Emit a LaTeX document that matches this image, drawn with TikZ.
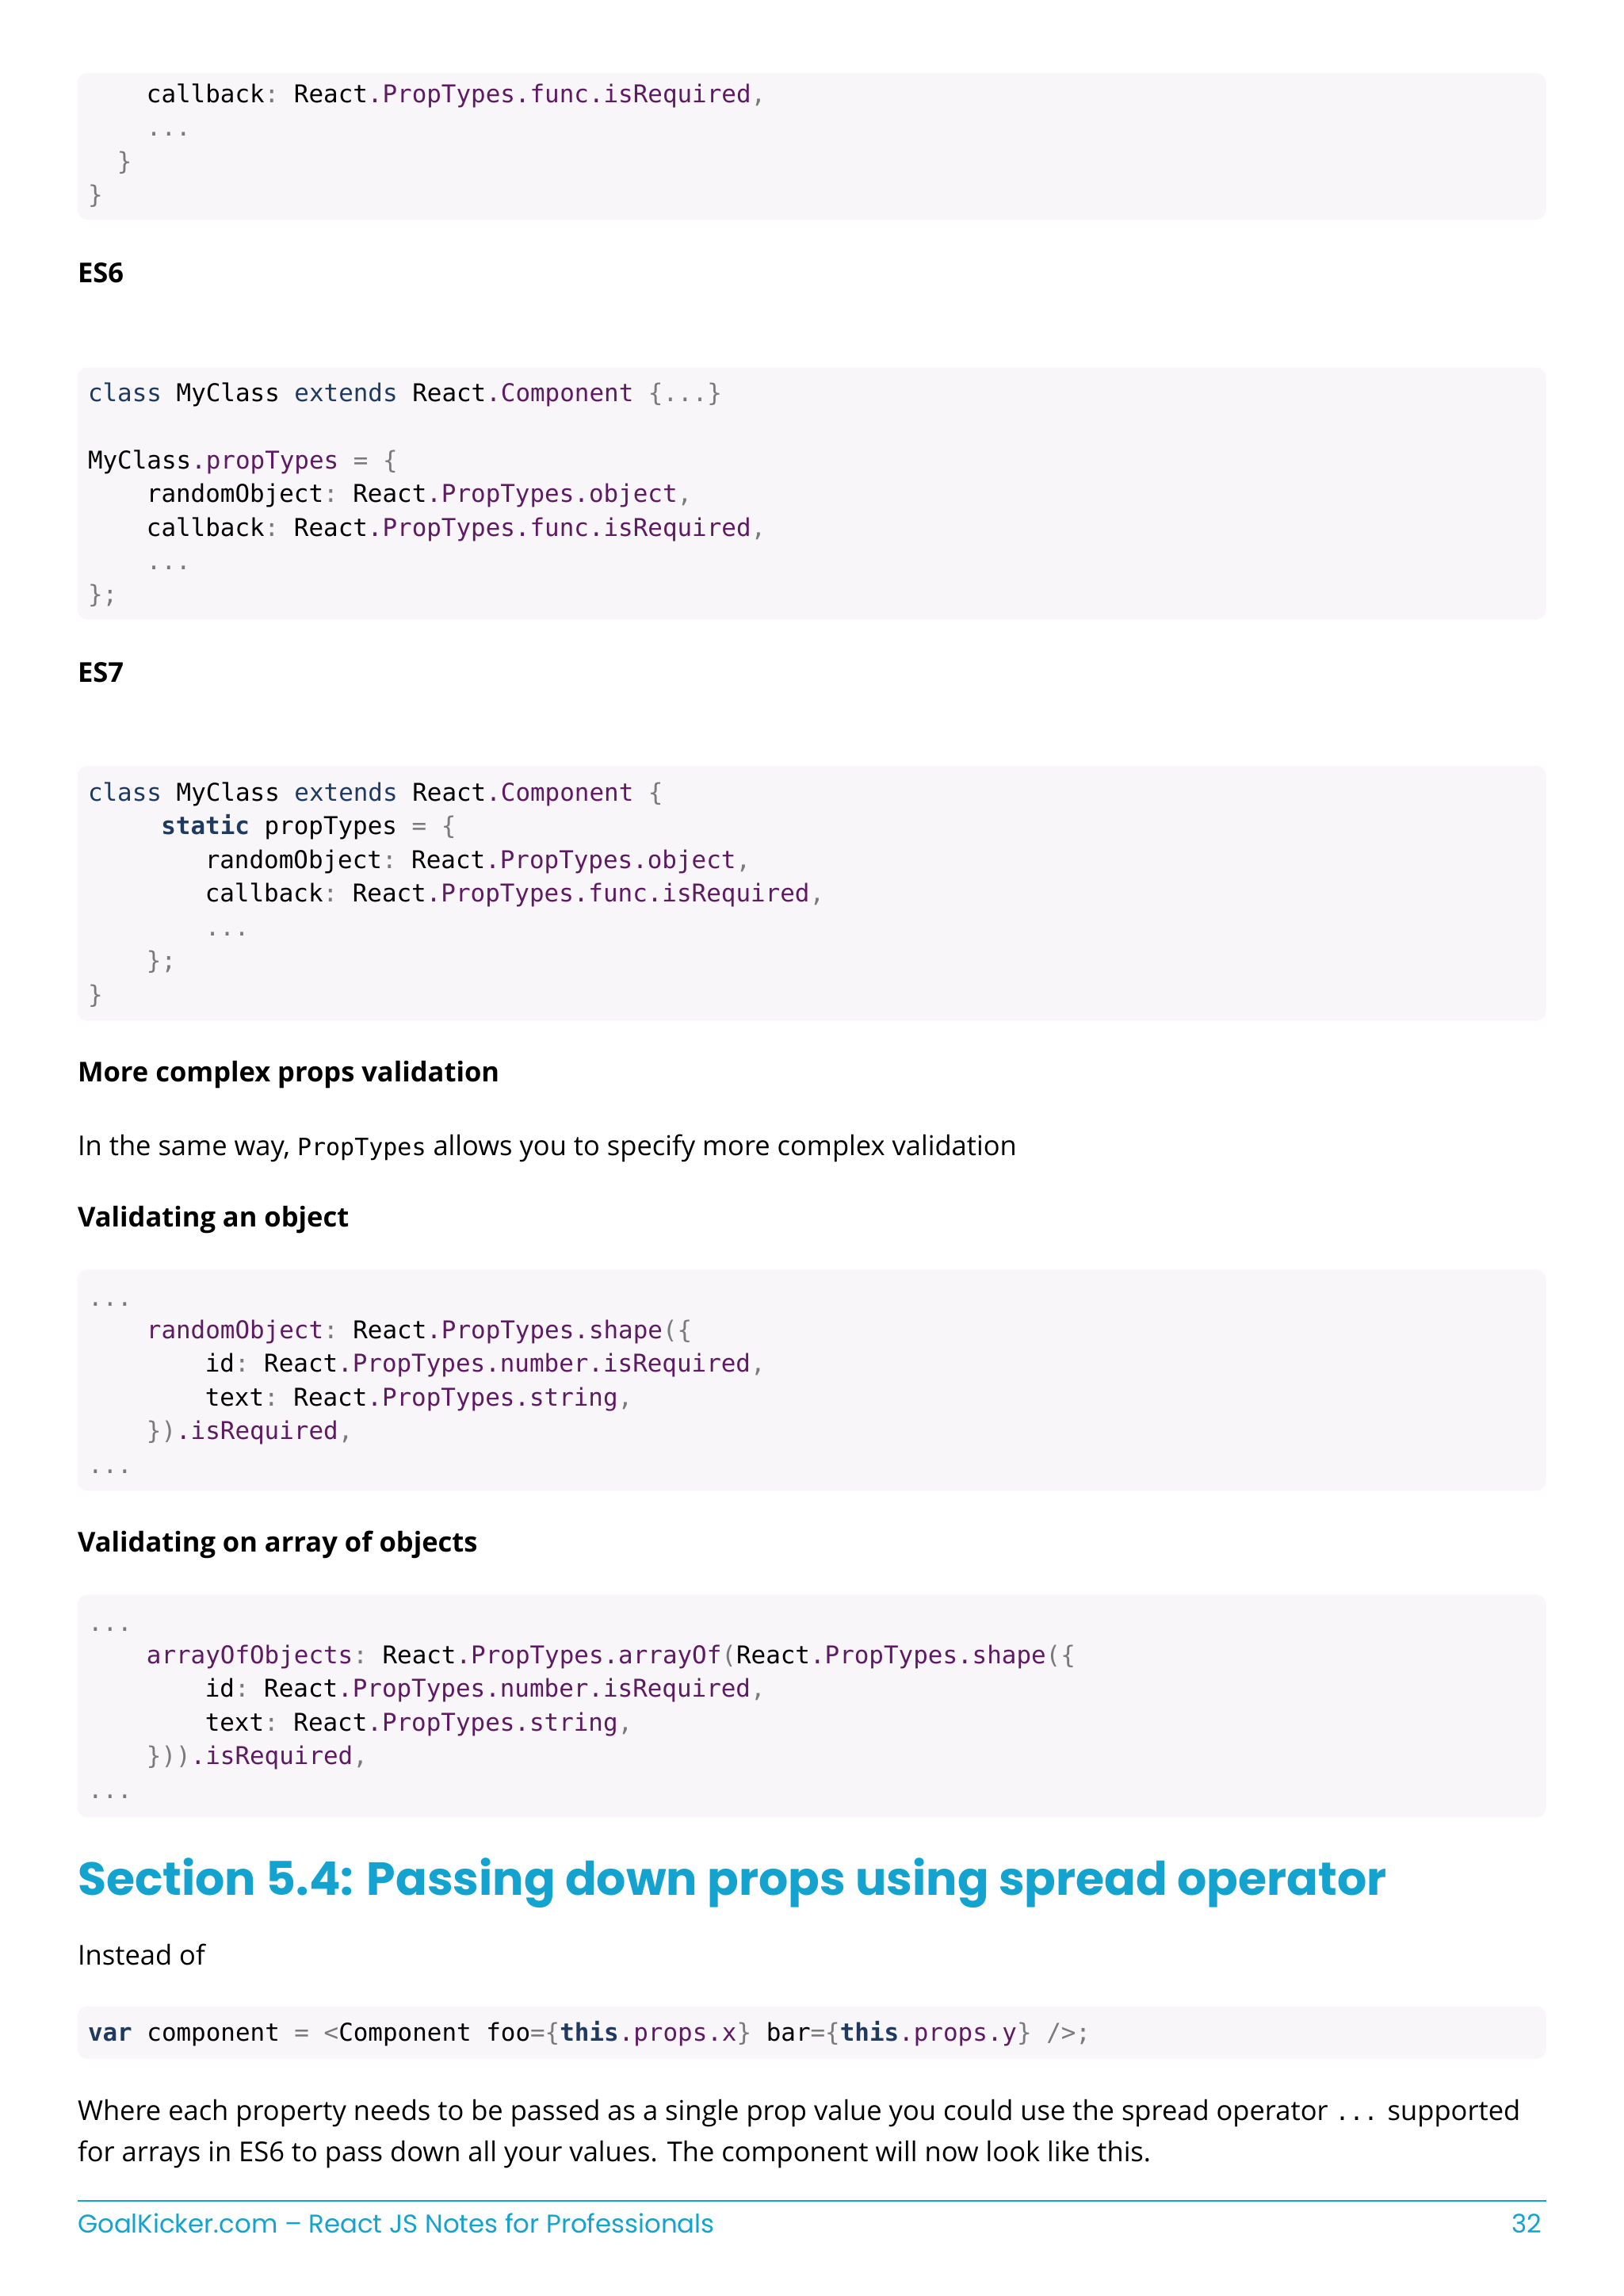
\documentclass[tikz,border=0pt]{standalone}
\usepackage{fontspec}
\setmainfont{Open Sans}
\setmonofont{DejaVu Sans Mono}
\newfontfamily\headfont{Poppins}
\definecolor{kwc}{HTML}{1F3A60}
\definecolor{puc}{HTML}{5E1A63}
\definecolor{grc}{HTML}{7A7A7A}
\definecolor{boxc}{HTML}{F8F6F8}
\definecolor{cyanc}{HTML}{14A3CF}
\newcommand\kw[1]{\textcolor{kwc}{#1}}
\newcommand\kwb[1]{\textcolor{kwc}{\bfseries #1}}
\newcommand\pu[1]{\textcolor{puc}{#1}}
\newcommand\gr[1]{\textcolor{grc}{#1}}
\begin{document}
\begin{tikzpicture}[x=1.847pt,y=-1.847pt,
  code/.style={anchor=base west,inner sep=0,font=\fontsize{30.9}{36}\selectfont\ttfamily},
  body/.style={anchor=base west,inner sep=0,font=\fontsize{34.5}{42}\selectfont},
  bold/.style={body,font=\fontsize{34.5}{42}\selectfont\bfseries},
  cbox/.style={fill=boxc,draw=none,rounded corners=12pt}]
\useasboundingbox (0,0) rectangle (1108.8,1567.9);
\fill[white] (0,0) rectangle (1108.8,1567.9);
\newcommand\cl[3]{\node[code] at (#1,#2+6) {#3};}
% boxes
\fill[cbox] (53,50) rectangle (1056,150);
\fill[cbox] (53,251) rectangle (1056,423);
\fill[cbox] (53,523) rectangle (1056,697);
\fill[cbox] (53,867) rectangle (1056,1018);
\fill[cbox] (53,1089) rectangle (1056,1241);
\fill[cbox] (53,1370) rectangle (1056,1406);
% box1
\cl{100}{64}{callback\gr{:} React\pu{.PropTypes.func.isRequired}\gr{,}}
\cl{100}{87}{\gr{...}}
\cl{80}{110}{\gr{\}}}
\cl{60}{133}{\gr{\}}}
\node[bold] at (53,193) {ES6};
% box2
\cl{60}{268}{\kw{class} MyClass \kw{extends} React\pu{.Component} \gr{\{...\}}}
\cl{60}{314}{MyClass\pu{.propTypes} \gr{= \{}}
\cl{100}{337}{randomObject\gr{:} React\pu{.PropTypes.object}\gr{,}}
\cl{100}{360}{callback\gr{:} React\pu{.PropTypes.func.isRequired}\gr{,}}
\cl{100}{383}{\gr{...}}
\cl{60}{406}{\gr{\};}}
\node[bold] at (53,466) {ES7};
% box3
\cl{60}{541}{\kw{class} MyClass \kw{extends} React\pu{.Component} \gr{\{}}
\cl{110}{564}{\kwb{static} propTypes \gr{= \{}}
\cl{140}{587}{randomObject\gr{:} React\pu{.PropTypes.object}\gr{,}}
\cl{140}{610}{callback\gr{:} React\pu{.PropTypes.func.isRequired}\gr{,}}
\cl{140}{633}{\gr{...}}
\cl{100}{656}{\gr{\};}}
\cl{60}{679}{\gr{\}}}
\node[bold] at (53,739) {More complex props validation};
\node[body] at (53,789) {In the same way, {\ttfamily\fontsize{30}{36}\selectfont PropTypes} allows you to specify more complex validation};
\node[bold] at (53,838) {Validating an object};
% box4
\cl{60}{886}{\gr{...}}
\cl{100}{908}{\pu{randomObject}\gr{:} React\pu{.PropTypes.shape}\gr{(\{}}
\cl{140}{931}{id\gr{:} React\pu{.PropTypes.number.isRequired}\gr{,}}
\cl{140}{954}{text\gr{:} React\pu{.PropTypes.string}\gr{,}}
\cl{100}{977}{\gr{\})}\pu{.isRequired}\gr{,}}
\cl{60}{1000}{\gr{...}}
\node[bold] at (53,1060) {Validating on array of objects};
% box5
\cl{60}{1108}{\gr{...}}
\cl{100}{1130}{\pu{arrayOfObjects}\gr{:} React\pu{.PropTypes.arrayOf}\gr{(}React\pu{.PropTypes.shape}\gr{(\{}}
\cl{140}{1153}{id\gr{:} React\pu{.PropTypes.number.isRequired}\gr{,}}
\cl{140}{1176}{text\gr{:} React\pu{.PropTypes.string}\gr{,}}
\cl{100}{1199}{\gr{\}))}\pu{.isRequired}\gr{,}}
\cl{60}{1222}{\gr{...}}
% heading
\node[anchor=base west,inner sep=0,text=cyanc,font=\fontsize{58.5}{66}\selectfont\headfont\bfseries] at (53,1294) {Section 5.4: Passing down props using spread operator};
\node[body] at (53,1342) {Instead of};
\cl{60}{1388}{\kwb{var} component \gr{= <}Component foo\gr{=\{}\kwb{this}\pu{.props.x}\gr{\}} bar\gr{=\{}\kwb{this}\pu{.props.y}\gr{\} />;}}
\node[body] at (53,1448) {Where each property needs to be passed as a single prop value you could use the spread operator {\ttfamily\fontsize{30}{36}\selectfont ...} supported};
\node[body] at (53,1476) {for arrays in ES6 to pass down all your values. The component will now look like this.};
% footer
\draw[cyanc,line width=1.5pt] (53,1503) -- (1056,1503);
\node[anchor=base west,inner sep=0,text=cyanc,font=\fontsize{32.4}{40}\selectfont\headfont] at (53,1525) {GoalKicker.com – React JS Notes for Professionals};
\node[anchor=base east,inner sep=0,text=cyanc,font=\fontsize{32.4}{40}\selectfont\headfont] at (1053,1525) {32};
\end{tikzpicture}
\end{document}
